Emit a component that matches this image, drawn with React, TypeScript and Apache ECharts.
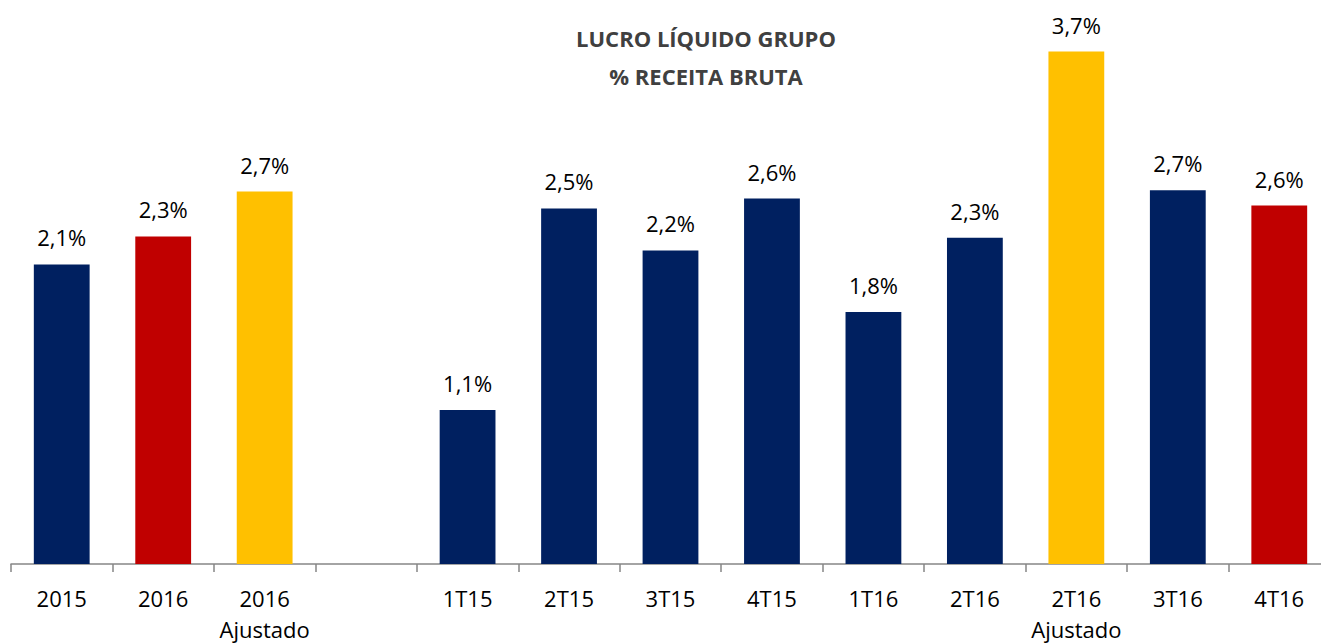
import React, { useEffect, useRef } from "react";
import * as echarts from "echarts";

const categories = ["2015", "2016", "2016\nAjustado", "", "1T15", "2T15", "3T15", "4T15", "1T16", "2T16", "2T16\nAjustado", "3T16", "4T16"];
const values: (number | null)[] = [2.14, 2.34, 2.66, null, 1.1, 2.54, 2.24, 2.61, 1.8, 2.33, 3.66, 2.67, 2.56];
const barColors = ["#002060", "#C00000", "#FFC000", "#002060", "#002060", "#002060", "#002060", "#002060", "#002060", "#002060", "#FFC000", "#002060", "#C00000"];
const titleLines = ["LUCRO LÍQUIDO GRUPO", "% RECEITA BRUTA"];

const FONT = "'Open Sans', 'Noto Sans', sans-serif";

export default function App() {
  const ref = useRef<HTMLDivElement>(null);
  useEffect(() => {
    if (!ref.current) return;
    const chart = echarts.init(ref.current, null, { renderer: "svg" });
    chart.setOption({
      animation: false,
      backgroundColor: "#ffffff",
      title: {
        text: titleLines.join("\n"),
        left: 701,
        top: 14,
        textAlign: "center",
        textStyle: { fontFamily: FONT, fontSize: 22, fontWeight: "bold", color: "#404040", lineHeight: 38 },
      },
      grid: { left: 11, top: 4, width: 1319, height: 561, containLabel: false },
      xAxis: {
        type: "category",
        data: categories,
        axisLine: { lineStyle: { color: "#868686", width: 1.5 } },
        axisTick: { show: true, length: 8, lineStyle: { color: "#868686", width: 1.5 } },
        axisLabel: { interval: 0, fontFamily: FONT, fontSize: 22, color: "#000", margin: 18, lineHeight: 31 },
      },
      yAxis: { type: "value", min: 0, max: 4, show: false, splitLine: { show: false } },
      series: [
        {
          type: "bar",
          barWidth: "55%",
          data: values.map((v, i) => ({ value: v, itemStyle: { color: barColors[i] } })),
          label: {
            show: true,
            position: "top",
            distance: 16,
            fontFamily: FONT,
            fontSize: 22,
            color: "#000",
            formatter: (p: any) => (p.value == null ? "" : p.value.toFixed(1).replace(".", ",") + "%"),
          },
        },
      ],
    });
    return () => chart.dispose();
  }, []);
  return (
    <div style={{ position: "fixed", left: 0, top: 0, width: 1321, height: 644, overflow: "hidden", background: "#fff" }}>
      <div ref={ref} style={{ width: 1360, height: 644 }} />
    </div>
  );
}
